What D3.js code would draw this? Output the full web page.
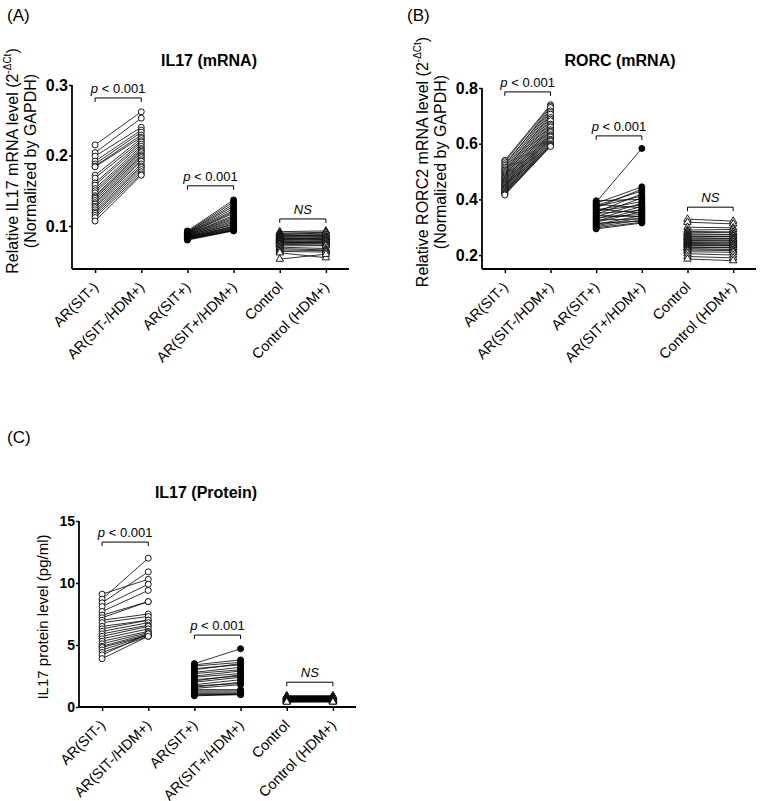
<!DOCTYPE html>
<html><head><meta charset="utf-8">
<script src="https://cdn.jsdelivr.net/npm/d3@7"></script>
<style>
html,body{margin:0;padding:0;background:#fff;overflow:hidden;}
svg{display:block;font-family:Arial,"Liberation Sans",sans-serif;}
</style></head>
<body><svg id="c" width="761" height="801"></svg>
<script>
const categories = ["AR(SIT-)","AR(SIT-/HDM+)","AR(SIT+)","AR(SIT+/HDM+)","Control","Control (HDM+)"];

// Panel A: IL17 mRNA
const aTicks = [0.1,0.2,0.3];
const aSitNeg = [0.215,0.204,0.199,0.192,0.188,0.185,0.184,0.172,0.168,0.161,0.158,0.153,0.150,0.147,0.143,0.141,0.139,0.136,0.133,0.131,0.128,0.126,0.123,0.120,0.118,0.115,0.112,0.107];
const aSitNegHdm = [0.262,0.253,0.240,0.236,0.233,0.229,0.226,0.224,0.221,0.219,0.216,0.213,0.210,0.208,0.206,0.204,0.201,0.199,0.197,0.194,0.192,0.188,0.185,0.183,0.180,0.177,0.174,0.172];
const aSitPos = [0.093,0.092,0.091,0.091,0.090,0.090,0.089,0.089,0.088,0.088,0.087,0.087,0.086,0.086,0.085,0.085,0.084,0.084,0.083,0.083,0.082,0.082,0.081,0.081,0.080];
const aSitPosHdm = [0.137,0.134,0.131,0.128,0.125,0.122,0.120,0.118,0.115,0.113,0.111,0.109,0.107,0.105,0.103,0.102,0.100,0.099,0.098,0.097,0.096,0.095,0.094,0.094,0.093];
const aCtrl = [0.092,0.090,0.089,0.088,0.087,0.086,0.085,0.084,0.083,0.082,0.081,0.080,0.079,0.078,0.077,0.076,0.075,0.074,0.072,0.070,0.068,0.066,0.064,0.062,0.053];
const aCtrlHdm = [0.093,0.091,0.088,0.090,0.086,0.087,0.084,0.085,0.082,0.083,0.080,0.081,0.078,0.079,0.076,0.077,0.075,0.073,0.072,0.068,0.066,0.065,0.063,0.055,0.060];
const aBrackets = [0.2816,0.157,0.110];

// Panel B: RORC mRNA
const bTicks = [0.2,0.4,0.6,0.8];
const bSitNeg = [0.540,0.535,0.528,0.522,0.516,0.510,0.505,0.500,0.496,0.492,0.488,0.484,0.480,0.476,0.472,0.468,0.465,0.462,0.458,0.455,0.452,0.449,0.446,0.443,0.440,0.437,0.434,0.431,0.428,0.425,0.422,0.419,0.416];
const bSitNegHdm = [0.740,0.735,0.722,0.730,0.718,0.712,0.700,0.706,0.694,0.688,0.676,0.682,0.670,0.665,0.655,0.660,0.650,0.645,0.636,0.640,0.632,0.628,0.620,0.624,0.616,0.612,0.604,0.608,0.600,0.597,0.594,0.592,0.590];
const bSitPos = [0.395,0.390,0.386,0.382,0.378,0.374,0.370,0.366,0.362,0.358,0.354,0.350,0.346,0.342,0.338,0.334,0.330,0.326,0.322,0.318,0.314,0.310,0.306,0.302,0.298,0.294];
const bSitPosHdm = [0.400,0.583,0.445,0.370,0.430,0.412,0.437,0.350,0.392,0.380,0.420,0.360,0.405,0.338,0.386,0.346,0.375,0.330,0.365,0.356,0.322,0.342,0.334,0.326,0.318,0.315];
const bCtrl = [0.329,0.318,0.300,0.290,0.285,0.280,0.276,0.272,0.268,0.265,0.262,0.258,0.255,0.252,0.248,0.245,0.242,0.238,0.235,0.232,0.228,0.225,0.222,0.218,0.212,0.205,0.195,0.186];
const bCtrlHdm = [0.322,0.312,0.298,0.292,0.283,0.282,0.274,0.273,0.266,0.267,0.260,0.259,0.253,0.254,0.246,0.247,0.240,0.239,0.233,0.234,0.226,0.227,0.220,0.216,0.210,0.200,0.190,0.180];
const bBrackets = [0.786,0.628,0.372];

// Panel C: IL17 protein
const cTicks = [0,5,10,15];
const cSitNeg = [9.1,8.7,8.4,8.1,7.7,7.4,7.2,7.0,6.8,6.5,6.3,6.1,5.9,5.7,5.5,5.3,5.1,4.9,4.8,4.6,4.4,4.2,3.9];
const cSitNegHdm = [10.3,12.0,10.9,9.9,9.4,8.5,8.5,7.5,7.3,7.0,7.0,6.8,6.6,6.5,6.3,6.1,6.0,5.9,5.8,5.8,5.7,5.9,5.7];
const cSitPos = [3.5,3.4,3.3,3.1,3.0,2.8,2.7,2.5,2.4,2.2,2.1,2.0,1.8,1.7,1.6,1.5,1.4,1.3,1.2,1.1,1.0,0.95,0.9];
const cSitPosHdm = [4.7,3.8,3.6,3.4,3.5,3.2,3.0,2.9,2.7,2.5,2.6,2.4,2.2,1.9,2.0,1.8,1.4,1.3,1.2,1.1,1.0,1.05,1.0];
const cCtrl = [0.90,0.88,0.86,0.84,0.82,0.80,0.78,0.76,0.74,0.72,0.70,0.68,0.66,0.64,0.62,0.60,0.58,0.56,0.54,0.52,0.50,0.48,0.46,0.44,0.42,0.40];
const cCtrlHdm = [0.88,0.90,0.85,0.86,0.80,0.83,0.77,0.78,0.72,0.75,0.70,0.69,0.64,0.66,0.60,0.63,0.57,0.58,0.53,0.55,0.50,0.49,0.45,0.46,0.42,0.41];
const cBrackets = [13.3,5.8,2.0];

const pLabels = ["p < 0.001","p < 0.001","NS"];

const svg = d3.select("#c");

function panel(o){
  const g = svg.append("g");
  const x = d3.scalePoint().domain(categories).range([o.x0, o.x1]).padding(0.5);
  const y = d3.scaleLinear().domain(o.domain).range([o.yBottom, o.yTop]);
  g.append("text").attr("x", o.letterX).attr("y", o.letterY).attr("font-size", 17).text(o.letter);
  g.append("text").attr("x", o.titleX).attr("y", o.titleY).attr("font-size", 16).attr("font-weight","bold")
    .attr("text-anchor","middle").text(o.title);
  const ya = g.append("g").attr("transform", `translate(${o.x0},0)`)
    .call(d3.axisLeft(y).tickValues(o.ticks).tickFormat(o.fmt).tickSize(3).tickSizeOuter(0));
  ya.select(".domain").attr("stroke-width", 1.8).attr("d", `M0,${o.yBottom}V${y(o.ticks[o.ticks.length-1])}`);
  ya.selectAll(".tick line").attr("stroke-width", 1.5);
  ya.selectAll(".tick text").attr("font-size", o.tickFont).attr("font-weight","bold")
    .attr("font-family","Arial, Liberation Sans, sans-serif").attr("fill","#000").attr("x",-4);
  const xa = g.append("g").attr("transform", `translate(0,${o.yBottom})`)
    .call(d3.axisBottom(x).tickSize(4).tickSizeOuter(0).tickFormat(""));
  xa.select(".domain").attr("stroke-width", 1.8).attr("d", `M${o.x0},0H${o.x1}`);
  xa.selectAll(".tick line").attr("stroke-width", 1.5);
  g.selectAll(".xl").data(categories).join("text")
    .attr("font-size", 14.5)
    .attr("text-anchor","end")
    .attr("transform", d => `translate(${x(d)+4},${o.yBottom+19}) rotate(-45)`)
    .text(d => d);
  const yl = g.append("g").attr("transform", `translate(${o.ylX},${o.ylY}) rotate(-90)`);
  o.ylabel(yl);
  const markers = ["open","filled","tri"];
  o.groups.forEach((gr, gi) => {
    const cA = categories[gi*2], cB = categories[gi*2+1];
    g.append("g").selectAll("line").data(d3.range(gr[0].length)).join("line")
      .attr("x1", x(cA)).attr("x2", x(cB))
      .attr("y1", i => y(gr[0][i])).attr("y2", i => y(gr[1][i]))
      .attr("stroke","#000").attr("stroke-width",0.8);
    [[cA, gr[0]],[cB, gr[1]]].forEach(([c, vals]) => {
      const m = markers[gi];
      if (m === "tri") {
        g.append("g").selectAll("path").data(vals).join("path")
          .attr("d", d3.symbol(d3.symbolTriangle, 24))
          .attr("transform", v => `translate(${x(c)},${y(v)})`)
          .attr("fill","#fff").attr("stroke","#000").attr("stroke-width",0.9);
      } else {
        g.append("g").selectAll("circle").data(vals).join("circle")
          .attr("cx", x(c)).attr("cy", v => y(v)).attr("r", 3)
          .attr("fill", m === "filled" ? "#000" : "#fff").attr("stroke","#000").attr("stroke-width",0.9);
      }
    });
    const by = y(o.brackets[gi]);
    g.append("path").attr("d", `M${x(cA)},${by+4}V${by}H${x(cB)}V${by+4}`)
      .attr("fill","none").attr("stroke","#000").attr("stroke-width",1);
    const t = g.append("text").attr("x", (x(cA)+x(cB))/2).attr("y", by-5).attr("text-anchor","middle").attr("font-size",13);
    if (pLabels[gi] === "NS") {
      t.attr("font-style","italic").text("NS");
    } else {
      t.append("tspan").attr("font-style","italic").text("p");
      t.append("tspan").text(pLabels[gi].slice(1));
    }
  });
}

function twoLineLabel(main){
  return function(yl){
    const t1 = yl.append("text").attr("text-anchor","middle").attr("font-size",16).attr("y",0);
    t1.append("tspan").text(main + "  (2");
    t1.append("tspan").attr("font-size",10).attr("dy",-7).text("-ΔCt");
    t1.append("tspan").attr("dy",7).text(")");
    yl.append("text").attr("text-anchor","middle").attr("font-size",16).attr("y",18).text("(Normalized by GAPDH)");
  };
}

panel({letter:"(A)", letterX:7, letterY:21, title:"IL17 (mRNA)", titleX:209, titleY:66,
  x0:72, x1:349, yTop:85, yBottom:269, domain:[0.039,0.3], ticks:aTicks, fmt:d3.format(".1f"), tickFont:16,
  ylX:18, ylY:161, ylabel:twoLineLabel("Relative IL17 mRNA level"),
  groups:[[aSitNeg,aSitNegHdm],[aSitPos,aSitPosHdm],[aCtrl,aCtrlHdm]], brackets:aBrackets});

panel({letter:"(B)", letterX:407, letterY:21, title:"RORC (mRNA)", titleX:620, titleY:66,
  x0:482, x1:756, yTop:88, yBottom:269, domain:[0.15,0.8], ticks:bTicks, fmt:d3.format(".1f"), tickFont:16,
  ylX:428, ylY:162, ylabel:twoLineLabel("Relative RORC2 mRNA level"),
  groups:[[bSitNeg,bSitNegHdm],[bSitPos,bSitPosHdm],[bCtrl,bCtrlHdm]], brackets:bBrackets});

panel({letter:"(C)", letterX:7, letterY:443, title:"IL17 (Protein)", titleX:206, titleY:498,
  x0:79, x1:356, yTop:521, yBottom:707, domain:[0,15], ticks:cTicks, fmt:d3.format("d"), tickFont:14,
  ylX:48, ylY:617, ylabel: yl => yl.append("text").attr("text-anchor","middle").attr("font-size",15).text("IL17 protein level (pg/ml)"),
  groups:[[cSitNeg,cSitNegHdm],[cSitPos,cSitPosHdm],[cCtrl,cCtrlHdm]], brackets:cBrackets});
</script></body></html>
